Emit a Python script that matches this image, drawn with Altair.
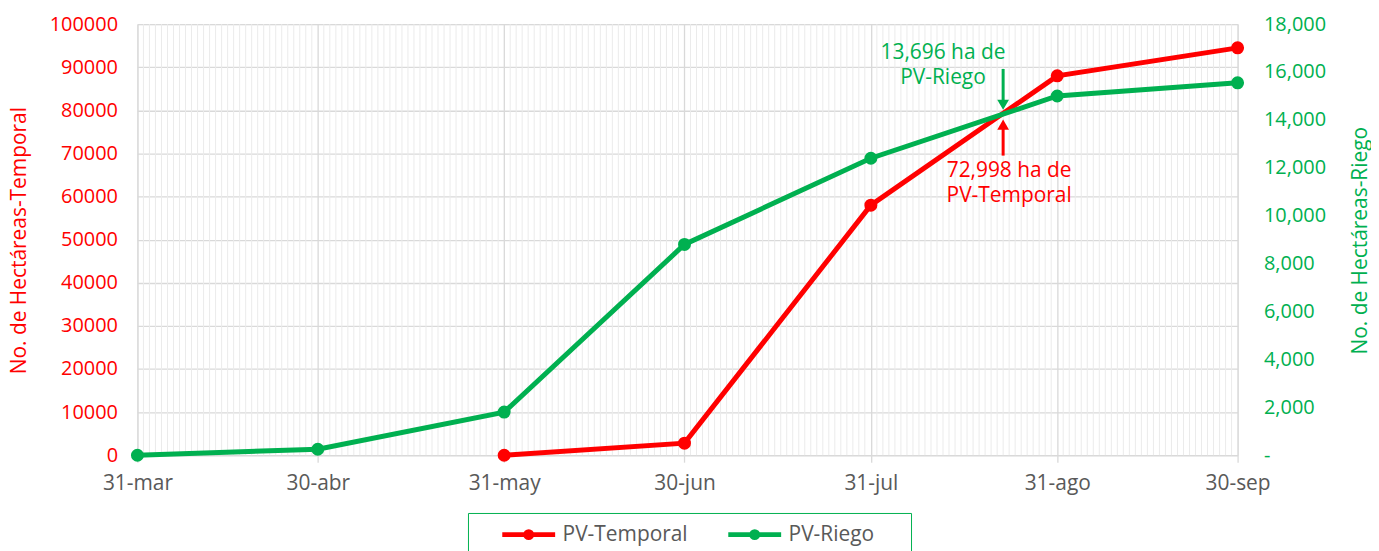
import altair as alt
import pandas as pd

FONT = "Open Sans"
RED = "#ff0000"
GREEN = "#00b050"

# --- data ---
month_ends = ["2021-03-31", "2021-04-30", "2021-05-31", "2021-06-30",
              "2021-07-31", "2021-08-31", "2021-09-30"]
riego_values = [0, 250, 1800, 8800, 12400, 15000, 15550]
temporal_dates = ["2021-05-31", "2021-06-30", "2021-07-31", "2021-08-31", "2021-09-30"]
temporal_values = [0, 2800, 58000, 88000, 94500]

series_names = ["PV-Temporal", "PV-Riego"]
series_colors = [RED, GREEN]

# annotation (values in left-axis units)
arrow_date = "2021-08-22"
green_arrow = [89600, 81300]   # shaft start, arrow head
red_arrow = [69500, 76700]
green_text = ["13,696 ha de", "PV-Riego"]
green_text_date = "2021-08-12"
green_text_y = 93300
red_text = ["72,998 ha de", "PV-Temporal"]
red_text_date = "2021-08-23"
red_text_y = 66000


def ts(d):
    return d + "T00:00:00"


riego_df = pd.DataFrame({"date": [ts(d) for d in month_ends], "value": riego_values,
                         "series": series_names[1]})
temp_df = pd.DataFrame({"date": [ts(d) for d in temporal_dates], "value": temporal_values,
                        "series": series_names[0]})

minor = [d for d in pd.date_range("2021-03-31", "2021-09-30", freq="D").strftime("%Y-%m-%d")
         if d not in month_ends]
minor_df = pd.DataFrame({"date": [ts(d) for d in minor]})


def dt(s):
    y, m, d = (int(v) for v in s.split("-"))
    return alt.DateTime(year=y, month=m, date=d)


x_scale = alt.Scale(domain=[dt(month_ends[0]), dt(month_ends[-1])])
x_axis = alt.Axis(
    values=[dt(d) for d in month_ends],
    labelExpr="date(datum.value) + '-' + ['ene','feb','mar','abr','may','jun','jul','ago','sep','oct','nov','dic'][month(datum.value)]",
    title=None, grid=True, gridColor="#d9d9d9", gridWidth=1.3,
    domain=True, domainColor="#d9d9d9", domainWidth=1.3,
    ticks=True, tickColor="#d9d9d9", tickSize=7, tickWidth=1.3,
    labelFontSize=21, labelColor="#595959", labelPadding=10, labelFont=FONT,
    labelFlush=False, labelOverlap=False, labelBound=False,
)


def X():
    return alt.X("date:T", scale=x_scale, axis=x_axis)


minor_rules = alt.Chart(minor_df).mark_rule(color="#ebebeb", strokeWidth=1).encode(x=X())

color_scale = alt.Scale(domain=series_names, range=series_colors)
legend_path = "M-1.77,0L1.77,0M0.2,0A0.2,0.2,0,1,1,-0.2,0A0.2,0.2,0,1,1,0.2,0Z"
legend = alt.Legend(
    orient="none", legendX=332, legendY=491, direction="horizontal", title=None,
    strokeColor=GREEN, padding=4, fillColor="white",
    symbolType=legend_path, symbolSize=900, symbolStrokeWidth=5, symbolOffset=39.5,
    labelFontSize=21, labelColor="#595959", labelFont=FONT, labelOffset=16.5,
    columnPadding=10,
    labelExpr="datum.label == 'PV-Riego' ? datum.label + '\u00a0\u00a0\u00a0\u00a0\u00a0\u00a0\u200b' : datum.label",
)
color_enc = alt.Color("series:N", scale=color_scale, legend=legend)

left_y = alt.Y("value:Q", scale=alt.Scale(domain=[0, 100000]),
               axis=alt.Axis(orient="left", values=list(range(0, 100001, 10000)), format="d",
                             title="No. de Hectáreas-Temporal", titleColor=RED, titleFontSize=21,
                             titleFont=FONT, titleFontWeight="normal",
                             titleX=-118, titleY=217, titleBaseline="middle", titleAngle=270,
                             labelColor=RED, labelFontSize=20, labelFont=FONT, labelPadding=20,
                             ticks=False, domain=False, grid=True, gridColor="#d9d9d9", gridWidth=1.3))

temp_line = alt.Chart(temp_df).mark_line(
    strokeWidth=5, point=alt.OverlayMarkDef(size=170, filled=True, opacity=1)
).encode(x=X(), y=left_y, color=color_enc)

# annotations on the left-axis scale
g_arrow_df = pd.DataFrame({"date": [ts(arrow_date)], "value": [green_arrow[0]], "value2": [green_arrow[1]]})
r_arrow_df = pd.DataFrame({"date": [ts(arrow_date)], "value": [red_arrow[0]], "value2": [red_arrow[1]]})

g_shaft = alt.Chart(g_arrow_df).mark_rule(color=GREEN, strokeWidth=3).encode(x=X(), y=left_y, y2="value2:Q")
g_head = alt.Chart(g_arrow_df).mark_point(shape="triangle-down", color=GREEN, filled=True, size=140, opacity=1).encode(
    x=X(), y=alt.Y("value2:Q"))
r_shaft = alt.Chart(r_arrow_df).mark_rule(color=RED, strokeWidth=3).encode(x=X(), y=left_y, y2="value2:Q")
r_head = alt.Chart(r_arrow_df).mark_point(shape="triangle-up", color=RED, filled=True, size=140, opacity=1).encode(
    x=X(), y=alt.Y("value2:Q"))

g_text_df = pd.DataFrame({"date": [ts(green_text_date)], "value": [green_text_y], "label": [green_text]})
r_text_df = pd.DataFrame({"date": [ts(red_text_date)], "value": [red_text_y], "label": [red_text]})
g_text = alt.Chart(g_text_df).mark_text(color=GREEN, fontSize=21, font=FONT, align="center",
                                        baseline="middle", lineHeight=25).encode(x=X(), y=left_y, text="label")
r_text = alt.Chart(r_text_df).mark_text(color=RED, fontSize=21, font=FONT, align="center",
                                        baseline="middle", lineHeight=25).encode(x=X(), y=left_y, text="label")

left_group = alt.layer(temp_line, g_shaft, g_head, r_shaft, r_head, g_text, r_text)

right_y = alt.Y("value:Q", scale=alt.Scale(domain=[0, 18000]),
                axis=alt.Axis(orient="right", values=list(range(0, 18001, 2000)),
                              labelExpr="datum.value == 0 ? '-' : format(datum.value, ',')",
                              title="No. de Hectáreas-Riego", titleColor=GREEN, titleFontSize=21,
                              titleFont=FONT, titleFontWeight="normal",
                              titleX=123, titleY=217, titleBaseline="middle", titleAngle=270,
                              labelColor=GREEN, labelFontSize=20, labelFont=FONT, labelPadding=26,
                              ticks=False, domain=False, grid=False))

riego_line = alt.Chart(riego_df).mark_line(
    strokeWidth=5, point=alt.OverlayMarkDef(size=170, filled=True, opacity=1)
).encode(x=X(), y=right_y, color=color_enc)

chart = alt.layer(minor_rules, left_group, riego_line).resolve_scale(y="independent").properties(
    width=1105, height=433,
    autosize=alt.AutoSizeParams(type="none"),
    padding={"left": 130, "top": 15, "right": 134, "bottom": 95},
).configure_view(stroke=None).configure(font=FONT)

chart.save("out.html", embed_options={"renderer": "svg", "actions": False})
